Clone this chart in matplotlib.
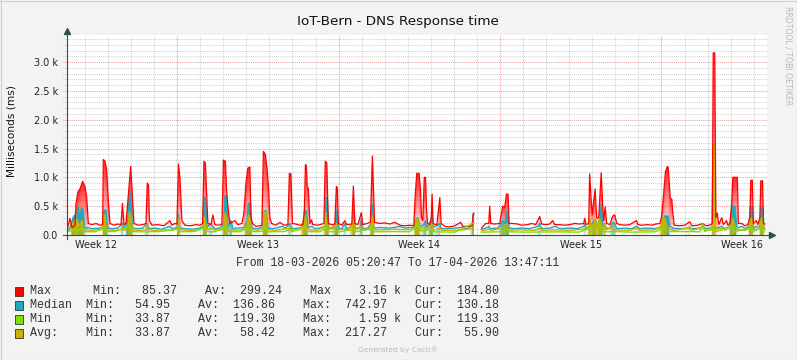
import numpy as np
import matplotlib
matplotlib.use("Agg")
import matplotlib.pyplot as plt
import matplotlib.dates as mdates
from matplotlib.path import Path
from matplotlib.lines import Line2D
from matplotlib.patches import Rectangle
from datetime import datetime, timedelta

# time range of the graph
start = datetime(2026, 3, 18, 5, 20, 47)
end = datetime(2026, 4, 17, 13, 47, 11)

# --- series, hours since start / milliseconds (nan = no data) ---
max_h = [0, 1.0, 3.1, 5.2, 8.3, 9.4, 11.4, 13.5, 16.3, 18.7, 20.5, 22.2, 26.0, 30.2, 34.3, 37.1, 37.8, 39.5, 41.3, 43.0,
         44.7, 48.9, 53.0, 56.2, 57.7, 59.3, 61.4, 63.1, 66.3, 68.3, 69.7, 73.8, 79.0, 82.2, 83.5, 84.8, 85.8, 88.4, 94.6, 100.9,
         107.1, 109.2, 112.3, 114.4, 116.0, 117.5, 119.6, 122.7, 127.9, 134.2, 138.3, 141.1, 142.5, 144.0, 145.3, 146.6, 149.8, 151.8, 153.9, 158.1,
         161.2, 162.8, 164.8, 166.1, 167.4, 169.5, 174.7, 177.8, 182.0, 184.1, 186.2, 188.2, 190.3, 191.4, 193.1, 196.6, 200.7, 202.8, 204.4, 206.4,
         208.3, 209.8, 211.1, 212.9, 217.4, 221.6, 225.7, 229.9, 231.4, 233.0, 234.6, 238.2, 242.4, 245.5, 247.0, 248.1, 249.1, 250.0, 251.2, 252.8,
         254.5, 255.8, 261.1, 265.2, 267.3, 268.8, 270.4, 271.8, 275.6, 278.7, 280.3, 281.3, 282.4, 286.0, 289.1, 291.2, 296.4, 298.0, 299.6, 302.7,
         306.3, 307.9, 312.1, 315.7, 317.8, 320.1, 325.6, 330.7, 335.9, 341.1, 346.3, 351.5, 356.7, 360.9, 362.4, 364.0, 366.4, 367.9, 368.9, 370.3,
         371.8, 373.1, 374.1, 375.2, 377.5, 379.1, 379.9, 381.0, 384.8, 388.0, 389.3, 393.1, 398.3, 403.5, 409.8, 411.8, 417.0, 421.9, 422.8, 423.3,
         427.4, 431.3, 435.8, 438.9, 439.9, 441.0, 445.1, 450.3, 452.1, 453.4, 455.5, 457.3, 459.0, 460.0, 463.8, 469.0, 473.2, 479.4, 483.6, 487.7,
         491.9, 494.0, 498.2, 502.3, 505.4, 507.5, 512.7, 517.9, 523.1, 528.3, 533.5, 537.7, 538.7, 540.3, 542.9, 543.9, 545.5, 546.5, 548.1, 549.6,
         551.2, 553.3, 554.3, 555.9, 557.5, 558.5, 560.1, 561.6, 564.8, 567.9, 570.0, 572.1, 575.2, 580.4, 585.6, 592.6, 594.0, 598.1, 604.4, 608.5,
         612.7, 616.9, 618.6, 620.3, 622.8, 624.7, 625.7, 627.8, 629.4, 630.4, 632.0, 637.7, 642.9, 648.1, 650.2, 656.4, 661.6, 664.7, 668.9, 671.5,
         672.5, 674.1, 675.2, 676.7, 678.3, 681.4, 683.0, 686.3, 687.7, 689.8, 691.5, 692.9, 697.6, 698.6, 702.3, 705.4, 708.5, 710.6, 711.6, 713.2,
         714.2, 717.5, 718.9, 721.0, 722.0, 723.8, 724.8, 726.1]
max_v = [120, 150, 290, 130, 160, 550, 750, 800, 930, 840, 660, 200, 180, 200, 170, 180, 1310, 1280, 1130, 600,
         200, 170, 190, 180, 550, 180, 200, 550, 1190, 600, 200, 170, 180, 200, 900, 870, 250, 170, 180, 160,
         250, 170, 200, 190, 1230, 1000, 250, 170, 160, 180, 170, 200, 1280, 1250, 730, 200, 180, 350, 180, 170,
         190, 1300, 1280, 780, 500, 200, 250, 180, 200, 380, 900, 1160, 1180, 300, 200, 150, 160, 170, 1450, 1400,
         1130, 780, 300, 200, 170, 220, 170, 180, 1070, 1060, 200, 190, 170, 180, 400, 1220, 1200, 840, 800, 200,
         260, 180, 170, 190, 200, 1280, 1250, 200, 180, 190, 840, 820, 200, 170, 250, 180, 190, 850, 200, 180,
         390, 180, 200, 220, 1370, 220, 200, 210, 190, 220, 170, 160, 170, 160, 700, 1070, 1070, 780, 300, 250,
         1000, 1000, 450, 200, 180, 300, 710, 200, 170, 650, 200, 150, 140, 160, 220, 150, 150, 160, 380, 380,
         np.nan, 120, 200, 200, 500, 200, 190, 200, 380, 500, 480, 710, 710, 200, 200, 190, 170, 180, 200, 180,
         320, 190, 180, 190, 250, 180, 180, 170, 180, 200, 190, 200, 290, 180, 200, 1060, 600, 350, 580, 800,
         300, 300, 600, 1080, 500, 250, 490, 200, 180, 330, 350, 200, 180, 170, 180, 250, 180, 170, 180, 170,
         190, 200, 300, 600, 1100, 1190, 1170, 640, 620, 380, 170, 160, 170, 230, 160, 170, 200, 160, 170, 200,
         3160, 3160, 300, 380, 180, 300, 180, 250, 170, 200, 500, 1000, 1000, 200, 200, 160, 180, 300, 950, 950,
         200, 250, 180, 300, 940, 940, 200, 190]

med_h = [0, 3.1, 6.2, 8.3, 9.9, 11.4, 13.5, 15.1, 16.6, 18.2, 21.8, 26.0, 34.3, 37.4, 38.5, 40.6, 42.1, 46.8, 53.0, 57.7,
         59.3, 63.5, 65.0, 66.6, 68.1, 72.8, 79.0, 83.2, 85.3, 91.5, 98.8, 107.1, 109.2, 114.4, 116.0, 117.5, 122.7, 131.1, 138.3, 141.5,
         142.5, 144.0, 145.6, 148.8, 151.8, 153.9, 159.1, 163.3, 164.3, 165.9, 167.4, 170.6, 172.7, 177.8, 184.1, 187.2, 188.8, 190.9, 192.5, 198.7,
         203.9, 205.4, 207.5, 209.1, 214.3, 219.5, 224.7, 226.8, 232.0, 234.1, 240.3, 245.5, 247.0, 249.1, 250.7, 254.8, 258.0, 263.2, 268.3, 269.4,
         270.9, 272.5, 276.7, 279.3, 280.3, 281.3, 282.4, 286.0, 289.1, 291.2, 297.5, 298.5, 300.1, 304.8, 306.3, 307.9, 313.1, 316.3, 317.8, 319.4,
         325.6, 333.9, 341.1, 346.3, 351.5, 356.7, 360.9, 363.0, 365.1, 367.2, 371.4, 372.9, 374.5, 378.6, 379.9, 381.2, 388.0, 389.3, 396.3, 403.5,
         410.8, 417.0, 421.7, 422.5, 423.3, 427.4, 431.3, 437.8, 438.9, 439.9, 448.3, 453.4, 455.5, 457.6, 459.0, 460.0, 466.0, 473.2, 481.5, 489.8,
         491.9, 494.0, 502.3, 508.6, 512.7, 523.1, 531.5, 537.7, 538.7, 540.3, 542.9, 543.9, 545.5, 548.1, 550.2, 551.7, 554.3, 555.9, 557.5, 559.6,
         561.1, 564.8, 567.9, 570.0, 572.1, 580.4, 587.7, 592.9, 596.0, 604.4, 611.6, 617.9, 619.9, 622.0, 625.7, 627.2, 630.4, 637.7, 646.0, 650.2,
         658.5, 661.6, 664.7, 672.0, 673.0, 675.2, 681.4, 684.5, 689.8, 691.9, 695.0, 697.1, 702.3, 705.4, 709.6, 711.1, 713.2, 714.2, 717.9, 721.0,
         722.0, 724.1, 725.2, 726.1]
med_v = [110, 120, 300, 350, 200, 500, 300, 470, 450, 120, 130, 110, 120, 130, 430, 430, 120, 110, 120, 200,
         110, 300, 750, 740, 120, 110, 120, 200, 110, 120, 100, 150, 110, 130, 360, 120, 110, 100, 120, 150,
         650, 650, 120, 200, 150, 110, 120, 200, 680, 680, 130, 250, 110, 120, 130, 250, 550, 550, 120, 110,
         150, 420, 420, 120, 110, 130, 150, 110, 200, 110, 120, 130, 420, 420, 130, 150, 110, 120, 150, 650,
         650, 120, 110, 200, 420, 400, 120, 110, 200, 110, 150, 430, 120, 120, 280, 110, 120, 200, 530, 120,
         130, 120, 130, 150, 120, 130, 130, 260, 300, 150, 180, 250, 130, 250, 380, 130, 200, 110, 110, 120,
         130, 110, 200, 350, 350, np.nan, 100, 130, 150, 110, 120, 250, 200, 420, 400, 120, 110, 120, 110, 150,
         200, 110, 120, 150, 110, 120, 110, 150, 200, 110, 150, 250, 150, 250, 250, 120, 250, 530, 150, 200,
         120, 110, 220, 200, 110, 120, 110, 150, 110, 120, 110, 130, 200, 330, 330, 150, 120, 110, 120, 110,
         120, 150, 110, 130, 150, 120, 150, 110, 150, 500, 500, 120, 150, 110, 150, 490, 490, 120, 150, 130,
         470, 470, 130, 120]

avg_h = [0, 3.1, 6.2, 8.3, 10.4, 12.5, 15.6, 17.7, 23.9, 32.2, 36.4, 38.0, 39.5, 41.1, 49.9, 56.2, 57.7, 59.3, 63.5, 65.0,
         66.6, 68.1, 75.9, 82.2, 83.5, 84.8, 91.5, 101.9, 109.2, 114.9, 116.0, 117.5, 127.9, 136.2, 141.5, 142.5, 144.0, 145.6, 151.8, 153.9,
         161.2, 163.3, 164.3, 165.9, 167.4, 175.8, 184.1, 187.2, 188.8, 190.3, 191.9, 198.7, 203.9, 205.4, 207.0, 208.5, 216.3, 224.7, 232.0, 234.1,
         242.4, 246.0, 248.1, 249.6, 252.8, 261.1, 268.3, 269.4, 270.9, 272.5, 280.3, 281.8, 289.1, 292.2, 298.5, 300.1, 306.3, 307.9, 315.2, 317.8,
         319.4, 330.7, 341.1, 351.5, 360.9, 363.0, 365.1, 367.2, 372.4, 374.5, 379.6, 381.2, 388.0, 390.1, 403.5, 413.9, 421.7, 422.5, 423.3, 427.4,
         431.3, 439.9, 442.0, 452.4, 454.5, 457.6, 459.7, 471.1, 486.7, 491.9, 494.0, 507.5, 523.1, 537.7, 542.9, 543.9, 545.5, 548.1, 549.6, 551.2,
         554.3, 555.9, 557.5, 559.6, 561.1, 567.9, 570.0, 585.6, 592.9, 596.0, 611.6, 617.9, 619.9, 622.0, 624.1, 627.2, 632.4, 646.0, 648.1, 650.2,
         661.6, 663.7, 670.9, 672.5, 674.1, 675.2, 681.4, 684.5, 690.8, 692.9, 695.0, 698.1, 705.4, 709.6, 711.1, 712.7, 714.2, 717.9, 721.0, 722.6,
         724.1, 725.2, 726.1]
avg_v = [80, 90, 200, 250, 280, 150, 250, 100, 80, 90, 100, 350, 350, 90, 80, 90, 150, 80, 150, 400,
         300, 80, 80, 90, 180, 90, 80, 90, 80, 120, 300, 90, 80, 90, 120, 320, 250, 90, 120, 80,
         90, 150, 380, 300, 90, 80, 100, 200, 350, 300, 90, 80, 120, 400, 400, 90, 80, 100, 120, 80,
         90, 250, 350, 120, 90, 80, 150, 380, 200, 90, 200, 90, 100, 80, 250, 90, 150, 80, 100, 330,
         90, 90, 100, 90, 100, 250, 280, 100, 150, 80, 200, 80, 120, 80, 80, 90, 120, 250, 250, np.nan,
         70, 100, 80, 120, 150, 200, 80, 90, 80, 120, 80, 90, 80, 100, 150, 300, 150, 200, 280, 150,
         280, 200, 100, 200, 90, 150, 90, 80, 120, 80, 90, 150, 300, 300, 150, 100, 80, 120, 150, 80,
         130, 80, 90, 1590, 1590, 90, 120, 80, 150, 280, 150, 90, 80, 120, 290, 290, 90, 100, 120, 300,
         300, 100, 90]

min_h = [0, 5.2, 8.3, 10.4, 15.6, 17.7, 29.1, 38.5, 40.6, 49.9, 65.0, 67.6, 81.1, 96.7, 116.0, 117.5, 133.1, 142.5, 144.6, 153.9,
         164.3, 166.4, 179.9, 188.8, 191.4, 202.8, 206.4, 208.0, 226.8, 232.0, 234.1, 247.6, 249.6, 263.2, 269.4, 271.5, 284.0, 298.5, 300.6, 317.8,
         319.4, 341.1, 356.7, 363.0, 365.1, 367.2, 379.6, 381.7, 403.5, 422.5, 423.3, 427.4, 431.3, 450.3, 457.6, 459.7, 481.5, 512.7, 533.5, 543.9,
         546.0, 555.9, 557.5, 570.0, 585.6, 611.6, 622.0, 625.2, 648.1, 658.5, 661.6, 663.7, 673.0, 675.2, 692.9, 695.0, 711.6, 713.7, 722.0, 724.1,
         726.1]
min_v = [60, 70, 100, 60, 120, 60, 55, 120, 60, 60, 150, 60, 55, 60, 100, 55, 60, 130, 60, 55,
         150, 60, 55, 130, 60, 60, 150, 55, 60, 100, 55, 150, 60, 55, 130, 60, 55, 100, 55, 120,
         55, 60, 55, 150, 200, 70, 100, 55, 50, 200, 200, np.nan, 50, 55, 100, 55, 50, 55, 50, 120,
         60, 150, 55, 60, 50, 55, 120, 60, 60, 55, 200, 60, 120, 55, 150, 60, 120, 55, 130, 55,
         55]

# week labels (placed mid-week like rrdtool)
week_labels = ["Week 12", "Week 13", "Week 14", "Week 15", "Week 16"]
week_mid = [datetime(2026, 3, 19, 12), datetime(2026, 3, 26, 12), datetime(2026, 4, 2, 12),
            datetime(2026, 4, 9, 12), datetime(2026, 4, 16, 12)]
y_ticks = [0, 500, 1000, 1500, 2000, 2500, 3000]
y_labels = ["0.0", "0.5 k", "1.0 k", "1.5 k", "2.0 k", "2.5 k", "3.0 k"]

legend_colors = ["#FF0000", "#1FA9B9", "#7FE000", "#C8B400"]
legend_rows = ["Max      Min:   85.37    Av:  299.24    Max    3.16 k  Cur:  184.80",
               "Median  Min:   54.95    Av:  136.86    Max:  742.97    Cur:  130.18",
               "Min     Min:   33.87    Av:  119.30    Max:    1.59 k  Cur:  119.33",
               "Avg:    Min:   33.87    Av:   58.42    Max:  217.27    Cur:   55.90"]

W, H = 797, 360
YMAX = 3470
x0 = mdates.date2num(start)
x1 = mdates.date2num(end)


def to_x(hours):
    return x0 + np.asarray(hours, dtype=float) / 24.0


def fp(px, py):
    # pixel position -> figure fraction
    return px / W, 1 - py / H


fig = plt.figure(figsize=(W / 100, H / 100), dpi=100, facecolor="#F3F3F3")
ax = fig.add_axes([67 / W, 1 - 235 / H, 700 / W, 200 / H])
ax.set_facecolor("white")
for s in ax.spines.values():
    s.set_visible(False)

grey = "#D2D2D2"
redg = "#E9A3A3"
dots = (0, (1, 1))

# horizontal grid
for v in range(100, 3500, 100):
    ax.axhline(v, xmin=-4 / 700, xmax=1, color=redg if v % 500 == 0 else grey,
               lw=0.75, ls=dots, zorder=0.5, clip_on=False)
# vertical grid: days and mondays
d = datetime(2026, 3, 19)
while d < end:
    ax.axvline(mdates.date2num(d), ymin=-4 / 200, ymax=1, color=redg if d.weekday() == 0 else grey,
               lw=0.75, ls=dots, zorder=0.5, clip_on=False)
    d += timedelta(days=1)


def gradient_area(hx, hy, rgb, a_top, a_bot, power, fade_from, fade_span, z):
    # area whose opacity falls off downwards; low (baseline) columns stay almost clear
    x = to_x(hx)
    y = np.asarray(hy, dtype=float)
    poly = ax.fill_between(x, 0, y, facecolor="none", edgecolor="none")
    clip = Path.make_compound_path(*poly.get_paths())
    xs = np.linspace(x0, x1, 2800)
    top = np.interp(xs, x, np.nan_to_num(y))
    ys = np.linspace(0, YMAX, 900)
    frac = ys[:, None] / np.maximum(top[None, :], 1)
    strength = np.clip((top - fade_from) / fade_span, 0, 1)[None, :]
    alpha = np.where(frac <= 1, (a_bot + (a_top - a_bot) * frac ** power) * strength, 0)
    img = np.zeros((len(ys), len(xs), 4))
    img[..., :3] = rgb
    img[..., 3] = alpha
    im = ax.imshow(img, extent=[x0, x1, 0, YMAX], origin="lower", aspect="auto",
                   interpolation="bilinear", zorder=z)
    im.set_clip_path(clip, transform=ax.transData)


teal = (0x1F / 255, 0xA9 / 255, 0xB9 / 255)
olive = (0xC8 / 255, 0xB4 / 255, 0x00 / 255)

gradient_area(max_h, max_v, (1.0, 0.0, 0.0), 0.85, 0.05, 1.1, 180, 350, 2)
gradient_area(med_h, med_v, teal, 1.0, 0.9, 1.0, 140, 120, 3)
gradient_area(avg_h, avg_v, olive, 1.0, 0.9, 1.0, 110, 100, 4)

ax.plot(to_x(med_h), med_v, color="#1FA9B9", lw=1.0, zorder=3)
ax.plot(to_x(avg_h), avg_v, color="#C8B400", lw=1.0, zorder=4)
ax.plot(to_x(max_h), max_v, color="#FF0000", lw=0.9, zorder=5)
ax.plot(to_x(min_h), min_v, color="#7FE000", lw=1.0, zorder=6)

ax.set_xlim(x0, x1)
ax.set_ylim(0, YMAX)

ax.set_yticks(y_ticks)
ax.set_yticklabels(y_labels)
ax.set_xticks(mdates.date2num(week_mid))
ax.set_xticklabels(week_labels)
ax.tick_params(axis="y", length=0, pad=6.5, labelsize=7, labelcolor="#222222")
ax.tick_params(axis="x", length=0, pad=3.5, labelsize=7, labelcolor="#222222")

# axes with arrows
axc = "#2F4F4F"
ax.plot([0, 0], [-4 / 200, 1 + 5 / 200], transform=ax.transAxes, color=axc, lw=0.8, clip_on=False, zorder=7)
ax.plot([0], [1 + 4 / 200], transform=ax.transAxes, marker="^", ms=4, color=axc, clip_on=False, zorder=7)
ax.plot([-4 / 700, 1 + 5 / 700], [0, 0], transform=ax.transAxes, color=axc, lw=0.8, clip_on=False, zorder=7)
ax.plot([1 + 5 / 700], [0], transform=ax.transAxes, marker=">", ms=4, color=axc, clip_on=False, zorder=7)

# texts
fig.text(*fp(398, 22), "IoT-Bern - DNS Response time", ha="center", va="center", fontsize=9.7, color="#111111")
fig.text(*fp(12, 131), "Milliseconds (ms)", ha="center", va="center", rotation=90, fontsize=7.6, color="#111111")
fig.text(*fp(788, 56), "RRDTOOL / TOBI OETIKER", ha="center", va="center", rotation=270, fontsize=5.6, color="#B8B8B8")
fig.text(*fp(398, 263), "From 18-03-2026 05:20:47 To 17-04-2026 13:47:11", ha="center", va="center",
         family="Liberation Mono", fontsize=8.3, color="#333333")

for i, (c, row) in enumerate(zip(legend_colors, legend_rows)):
    yc = 291 + i * 14
    bx, by = fp(15, yc + 4.5)
    fig.add_artist(Rectangle((bx, by), 8 / W, 9 / H, transform=fig.transFigure,
                             facecolor=c, edgecolor="#333333", lw=0.6))
    fig.text(*fp(29.5, yc), row, ha="left", va="center", family="Liberation Mono", fontsize=8.4, color="#333333")

fig.text(*fp(398, 350), "Generated by Cacti\u00ae", ha="center", va="center", fontsize=5.4, color="#BBBBBB")

# image frame
fig.add_artist(Line2D([0.5 / W, 0.5 / W], [0, 1], transform=fig.transFigure, color="#CFCFCF", lw=0.8))
fig.add_artist(Line2D([0, 1], [1 - 0.5 / H, 1 - 0.5 / H], transform=fig.transFigure, color="#CFCFCF", lw=0.8))
fig.add_artist(Line2D([1 - 0.5 / W, 1 - 0.5 / W], [0, 1], transform=fig.transFigure, color="#9A9A9A", lw=0.8))
fig.add_artist(Line2D([0, 1], [0.5 / H, 0.5 / H], transform=fig.transFigure, color="#9A9A9A", lw=0.8))

fig.savefig("out.png", dpi=100, facecolor=fig.get_facecolor())
